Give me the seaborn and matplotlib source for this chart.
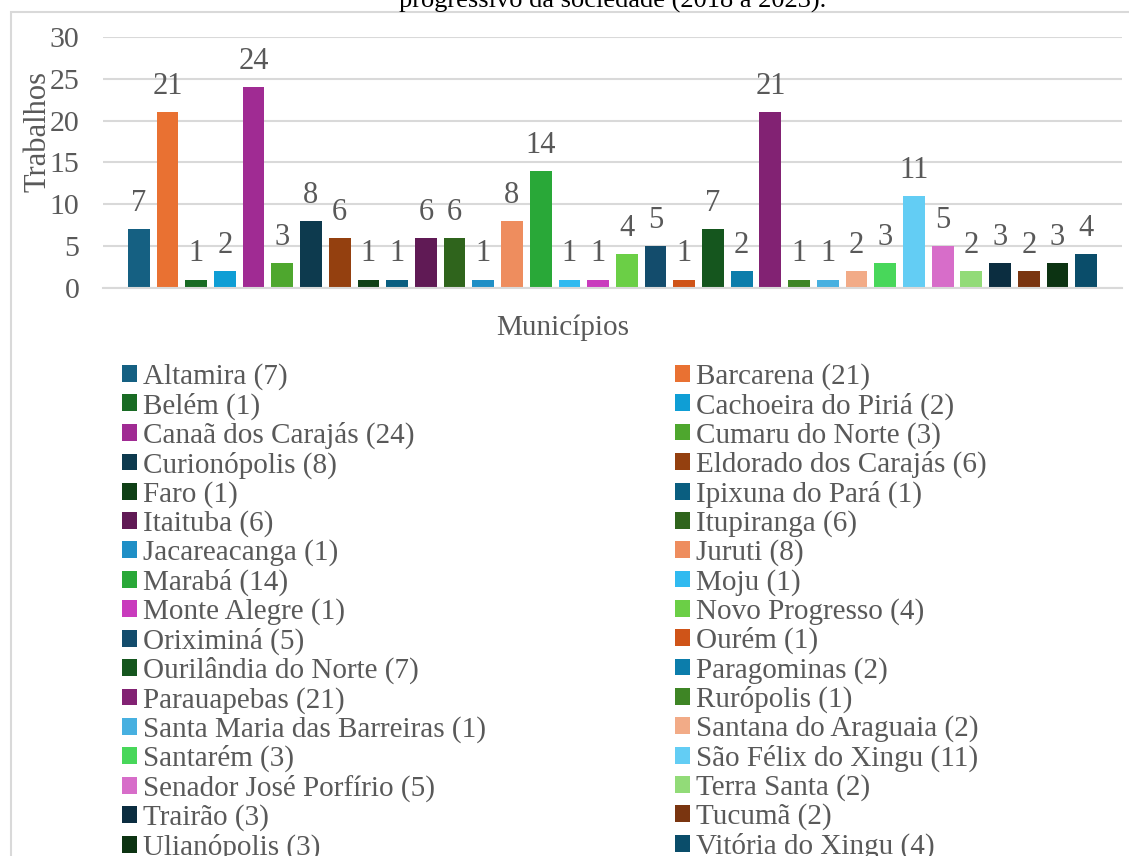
import numpy as np
import pandas as pd
import matplotlib
matplotlib.use("Agg")
import matplotlib.pyplot as plt
import seaborn as sns
from matplotlib.patches import Patch, Rectangle

# municipalities and number of works (2018 a 2023)
municipios = [
    "Altamira", "Barcarena", "Belém", "Cachoeira do Piriá", "Canaã dos Carajás",
    "Cumaru do Norte", "Curionópolis", "Eldorado dos Carajás", "Faro", "Ipixuna do Pará",
    "Itaituba", "Itupiranga", "Jacareacanga", "Juruti", "Marabá", "Moju",
    "Monte Alegre", "Novo Progresso", "Oriximiná", "Ourém", "Ourilândia do Norte",
    "Paragominas", "Parauapebas", "Rurópolis", "Santa Maria das Barreiras",
    "Santana do Araguaia", "Santarém", "São Félix do Xingu", "Senador José Porfírio",
    "Terra Santa", "Trairão", "Tucumã", "Ulianópolis", "Vitória do Xingu",
]
trabalhos = [7, 21, 1, 2, 24, 3, 8, 6, 1, 1, 6, 6, 1, 8, 14, 1, 1, 4, 5, 1, 7,
             2, 21, 1, 1, 2, 3, 11, 5, 2, 3, 2, 3, 4]
cores = [
    "#156082", "#E97132", "#196B24", "#0F9ED5", "#A02B93", "#4EA72E",
    "#0D3A4E", "#94400F", "#0F4016", "#0A5E80", "#601A55", "#2F641C",
    "#1F8FC6", "#EE8D5E", "#29A838", "#30BAF0", "#C93BBD", "#6BCF46",
    "#134C6C", "#CF5418", "#15561E", "#0C7DAB", "#822273", "#3E8525",
    "#47B0E0", "#F2AB87", "#48D75A", "#63CDF4", "#D76DC9", "#92DB78",
    "#0B2D40", "#7A3510", "#0C3312", "#0A4D6A",
]

rotulos = [f"{m} ({v})" for m, v in zip(municipios, trabalhos)]
df = pd.DataFrame({"grupo": "Municípios", "rotulo": rotulos, "trabalhos": trabalhos})

sns.set_style("white")
plt.rcParams["font.family"] = ["Liberation Serif", "DejaVu Serif"]
cinza = "#595959"

fig = plt.figure(figsize=(11.29, 8.56), dpi=100)
ax = fig.add_axes([0.0912, 0.6636, 0.9026, 0.2932])

sns.barplot(data=df, x="grupo", y="trabalhos", hue="rotulo", palette=cores,
            width=0.958, gap=0.24, errorbar=None, legend=False, ax=ax,
            saturation=1, linewidth=0)

for c in ax.containers:
    ax.bar_label(c, padding=8, fontsize=22, color=cinza)

ax.set_ylim(0, 30)
ax.set_yticks(range(0, 31, 5))
ax.tick_params(axis="y", labelsize=21.5, labelcolor=cinza, length=0, pad=17)
ax.set_xticks([])
ax.yaxis.grid(True, color="#D9D9D9", linewidth=1.5)
ax.set_axisbelow(True)
for s in ["top", "right", "left"]:
    ax.spines[s].set_visible(False)
ax.spines["bottom"].set_color("#D9D9D9")
ax.spines["bottom"].set_linewidth(1.5)

ax.set_xlabel("Municípios", fontsize=21, color=cinza)
ax.xaxis.set_label_coords(0.4515, -0.104)
ax.set_ylabel("Trabalhos", fontsize=22, color=cinza)
ax.yaxis.label.set_va("center")
ax.yaxis.label.set_ha("center")
ax.yaxis.set_label_coords(-0.0636, 0.625)

# legend filled row by row, two columns
handles = [Patch(facecolor=c, edgecolor="none") for c in cores]
ordem = list(range(0, len(cores), 2)) + list(range(1, len(cores), 2))
leg = fig.legend([handles[i] for i in ordem], [rotulos[i] for i in ordem],
                 ncol=2, loc="upper left", bbox_to_anchor=(122 / 1129, 1 - 363 / 856),
                 frameon=False, fontsize=21, handlelength=0.51, handleheight=0.51,
                 handletextpad=0.2, columnspacing=6.5, labelspacing=0.078,
                 borderpad=0, borderaxespad=0, labelcolor=cinza)

# chart border and clipped title
fig.patches.append(Rectangle((11 / 1129, -0.1), 1.2, 1.1 - 12 / 856,
                             transform=fig.transFigure, fill=False,
                             edgecolor="#D9D9D9", linewidth=1.5))
fig.text(0.543, 1 - 8 / 856, "progressivo da sociedade (2018 a 2023).",
         ha="center", va="baseline", fontsize=19, color="black")

fig.savefig("out.png", dpi=100)
